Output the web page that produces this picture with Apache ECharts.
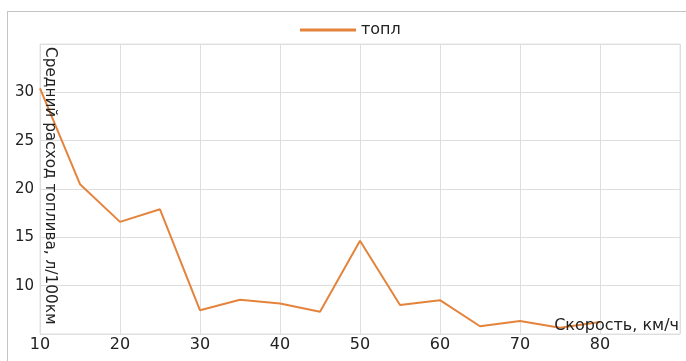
<!DOCTYPE html>
<html>
<head>
<meta charset="utf-8">
<script src="https://cdn.jsdelivr.net/npm/echarts@6/dist/echarts.min.js"></script>
<style>
html,body{margin:0;padding:0;background:#fff;overflow:hidden;}
#frame{position:absolute;left:7px;top:11px;width:700px;height:400px;border-left:1px solid #c4c4c4;border-top:1px solid #c4c4c4;}
#chart{position:absolute;left:0;top:0;width:686px;height:361px;}
</style>
</head>
<body>
<div id="frame"></div>
<div id="chart"></div>
<script>
const seriesName = 'топл';
const xAxisName = 'Скорость, км/ч';
const yAxisName = 'Средний расход топлива, л/100км';
const speeds = [10, 15, 20, 25, 30, 35, 40, 45, 50, 55, 60, 65, 70, 75, 80];
const consumption = [30.4, 20.5, 16.6, 17.9, 7.45, 8.55, 8.15, 7.3, 14.65, 8.0, 8.5, 5.8, 6.35, 5.65, 6.25];

const points = speeds.map((s, i) => [s, consumption[i]]);
const textColor = '#222';
const font = 'DejaVu Sans';

const chart = echarts.init(document.getElementById('chart'), null, {renderer: 'canvas'});
chart.setOption({
  animation: false,
  backgroundColor: 'transparent',
  legend: {
    top: 17,
    left: 295,
    itemWidth: 56,
    itemHeight: 3,
    itemGap: 10,
    icon: 'rect',
    textStyle: {color: textColor, fontFamily: font, fontSize: 16},
    data: [seriesName]
  },
  grid: {
    left: 40, top: 44, right: 6, bottom: 27,
    show: true, borderColor: '#e2e2e2', borderWidth: 1, containLabel: false
  },
  xAxis: {
    type: 'value', min: 10, max: 90, interval: 10,
    axisLine: {show: false}, axisTick: {show: false},
    splitLine: {show: true, lineStyle: {color: '#dedede', width: 1}},
    axisLabel: {color: textColor, fontFamily: font, fontSize: 16, margin: 3, showMaxLabel: false}
  },
  yAxis: {
    type: 'value', min: 5, max: 35, interval: 5,
    axisLine: {show: false}, axisTick: {show: false},
    splitLine: {show: true, lineStyle: {color: '#dedede', width: 1}},
    axisLabel: {color: textColor, fontFamily: font, fontSize: 15, margin: 6, showMinLabel: false, showMaxLabel: false}
  },
  graphic: [
    {
      type: 'text', x: 42, y: 47, rotation: -Math.PI / 2, z: 100,
      style: {text: yAxisName, fill: textColor, font: '15.3px "DejaVu Sans"', align: 'left', verticalAlign: 'bottom'}
    },
    {
      type: 'text', x: 679, y: 334, z: 100,
      style: {text: xAxisName, fill: textColor, font: '16px "DejaVu Sans"', align: 'right', verticalAlign: 'bottom'}
    }
  ],
  series: [{
    name: seriesName,
    type: 'line',
    data: points,
    symbol: 'none',
    lineStyle: {color: '#e4843c', width: 2},
    itemStyle: {color: '#e4843c'}
  }]
});
</script>
</body>
</html>
